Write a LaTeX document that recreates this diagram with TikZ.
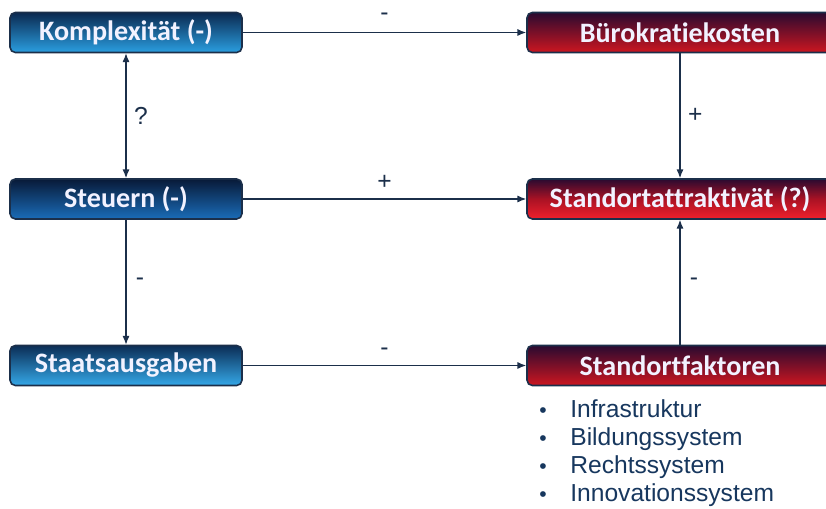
\documentclass[tikz,border=0pt]{standalone}
\usepackage{fontspec}
\setmainfont{Liberation Sans}
\newfontfamily\boxfont[Ligatures=NoCommon]{Carlito}
\usetikzlibrary{arrows.meta}
\definecolor{linecol}{HTML}{1B2F4A}
\definecolor{listcol}{HTML}{17375E}
\tikzset{
  box/.style={draw=linecol, line width=0.9pt, rounded corners=3pt,
    minimum height=0.8cm, inner sep=0pt, text=white!95!blue,
    font=\boxfont\bfseries\fontsize{16}{19}\selectfont},
  bluebox/.style={box, minimum width=4.64cm},
  redbox/.style={box, minimum width=6.12cm, top color=red1, middle color=red2, bottom color=red3},
  conn/.style={draw=linecol, line width=0.7pt, -{Latex[length=5pt,width=4pt]}},
  lbl/.style={text=linecol, font=\fontsize{14}{16}\selectfont},
}
\definecolor{red1}{HTML}{2A0A30}
\definecolor{red2}{HTML}{9A1024}
\definecolor{red3}{HTML}{CC1620}
\begin{document}
\begin{tikzpicture}[x=0.02cm, y=0.02cm]
            \clip (0, 0) rectangle (826, 509);
            \fill[white] (0, 0) rectangle (826, 509);
            % left column
            \node[bluebox, top color={rgb,255:red,11;green,41;blue,80}, middle color={rgb,255:red,21;green,101;blue,168},
                  bottom color={rgb,255:red,42;green,158;blue,224}] (komp) at (126, 476.5) {Komplexität (-)};
            \node[bluebox, top color={rgb,255:red,8;green,26;blue,56}, middle color={rgb,255:red,15;green,74;blue,138},
                  bottom color={rgb,255:red,26;green,108;blue,184}] (steuern) at (126, 310) {Steuern (-)};
            \node[bluebox, top color={rgb,255:red,11;green,45;blue,85}, middle color={rgb,255:red,26;green,120;blue,192},
                  bottom color={rgb,255:red,53;green,168;blue,232}] (staat) at (126, 143.5) {Staatsausgaben};
            % right column
            \node[redbox] (buero) at (680, 476.5) {Bürokratiekosten};
            \node[redbox, bottom color={rgb,255:red,240;green,32;blue,44}, middle color={rgb,255:red,170;green,18;blue,36}]
                (attr) at (680, 310) {Standortattraktivät (?)};
            \node[redbox] (faktor) at (680, 143.5) {Standortfaktoren};
            % connectors
            \draw[conn] (komp) -- (buero) node [lbl, midway, above=3pt] {-};
            \draw[conn, {Latex[length=5pt,width=4pt]}-{Latex[length=5pt,width=4pt]}] (komp) -- (steuern)
                node [lbl, midway, right=1pt] {?};
            \draw[conn] (steuern) -- (attr) node [lbl, midway, above=2pt] {+};
            \draw[conn] (steuern) -- (staat) node [lbl, midway, right=2pt] {-};
            \draw[conn] (staat) -- (faktor) node [lbl, midway, above=2pt] {-};
            \draw[conn] (buero) -- (attr) node [lbl, midway, right=1pt] {+};
            \draw[conn] (faktor) -- (attr) node [lbl, midway, right=2pt] {-};
            % list below Standortfaktoren
            \foreach \txt [count=\i] in {Infrastruktur, Bildungssystem, Rechtssystem, Innovationssystem} {
                \node[anchor=base, text=listcol, font=\fontsize{12}{14}\selectfont] (b\i) at (543, 119 - 28*\i) {•};
                \node[anchor=base west, inner sep=0pt, text=listcol, font=\fontsize{14}{17}\selectfont] (f\i) at (570, 119 - 28*\i) {\txt};
            }
        \end{tikzpicture}
\end{document}
